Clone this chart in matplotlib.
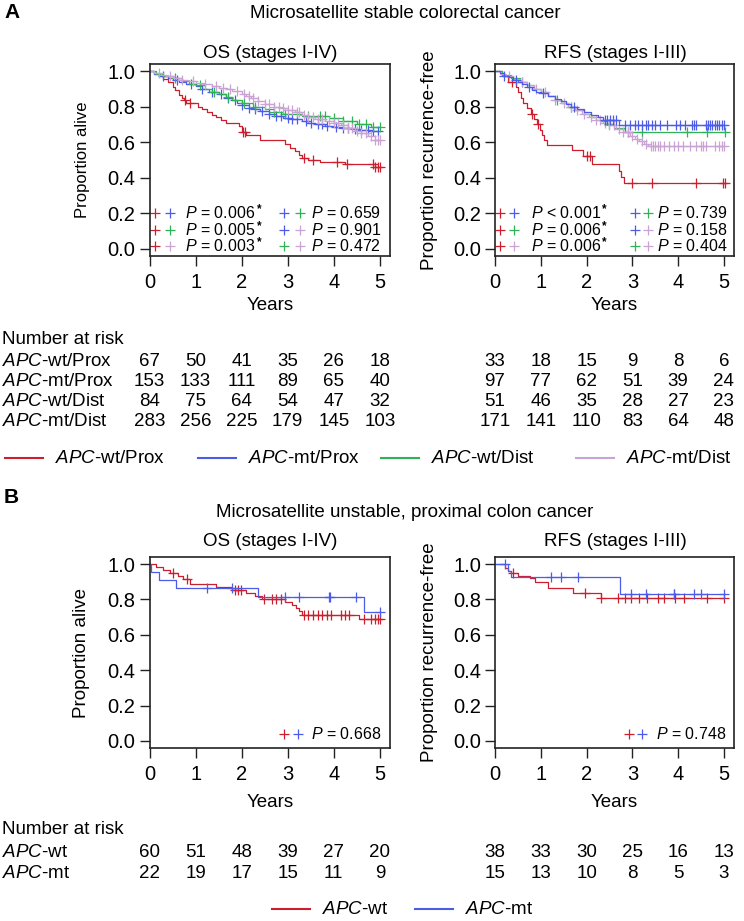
import matplotlib
matplotlib.use('Agg')
import matplotlib.pyplot as plt
import matplotlib.transforms as mtrans
from matplotlib.lines import Line2D
import numpy as np

plt.rcParams['font.family'] = ['Liberation Sans', 'DejaVu Sans']
plt.rcParams['mathtext.fontset'] = 'custom'
plt.rcParams['mathtext.rm'] = 'Liberation Sans'
plt.rcParams['mathtext.it'] = 'Liberation Sans:italic'
plt.rcParams['mathtext.bf'] = 'Liberation Sans:bold'

# ---------------- data ----------------
years = [0, 1, 2, 3, 4, 5]
ytick_vals = [0.0, 0.2, 0.4, 0.6, 0.8, 1.0]
ytick_labels = ['0.0', '0.2', '0.4', '0.6', '0.8', '1.0']

# Panel A, OS (MSS)
a_os_red_t = [0, 0.1, 0.2, 0.3, 0.4, 0.5, 0.55, 0.65, 0.7, 0.75, 0.8, 1.05, 1.15, 1.25, 1.35, 1.45, 1.55, 1.65, 1.95, 2.0, 2.1, 2.4, 2.95, 3.05, 3.15, 3.25, 3.3, 3.45, 3.7, 4.25, 4.9]
a_os_red_s = [1.0, 0.985, 0.97, 0.955, 0.94, 0.91, 0.895, 0.865, 0.85, 0.835, 0.82, 0.80, 0.785, 0.77, 0.755, 0.74, 0.725, 0.71, 0.69, 0.66, 0.64, 0.61, 0.59, 0.57, 0.55, 0.53, 0.51, 0.50, 0.49, 0.475, 0.46]
a_os_red_c = [0.78, 0.88, 2.02, 2.08, 3.35, 3.55, 4.08, 4.28, 4.85, 4.9, 4.95, 5.0]

a_os_blue_t = [0, 0.1, 0.25, 0.4, 0.5, 0.65, 0.8, 1.0, 1.15, 1.3, 1.5, 1.65, 1.8, 1.9, 2.0, 2.15, 2.3, 2.4, 2.6, 2.75, 2.9, 3.1, 3.3, 3.45, 3.6, 3.8, 4.0, 4.2, 4.4, 4.6, 4.8]
a_os_blue_s = [1.0, 0.985, 0.975, 0.96, 0.95, 0.94, 0.93, 0.915, 0.9, 0.885, 0.87, 0.85, 0.835, 0.82, 0.81, 0.795, 0.785, 0.775, 0.76, 0.745, 0.735, 0.728, 0.72, 0.71, 0.70, 0.692, 0.685, 0.68, 0.675, 0.67, 0.665]
a_os_blue_c = [0.3, 0.6, 0.9, 1.15, 1.35, 1.55, 1.7, 1.85, 2.0, 2.15, 2.3, 2.45, 2.6, 2.75, 2.85, 3.0, 3.1, 3.2, 3.4, 3.5, 3.65, 3.75, 3.85, 4.05, 4.2, 4.3, 4.45, 4.6, 4.75, 4.85, 4.95]

a_os_green_t = [0, 0.15, 0.3, 0.5, 0.7, 0.85, 1.0, 1.2, 1.35, 1.5, 1.65, 1.8, 2.0, 2.25, 2.5, 2.7, 2.9, 3.3, 3.9, 4.2, 4.5, 4.8]
a_os_green_s = [1.0, 0.985, 0.97, 0.96, 0.945, 0.93, 0.92, 0.9, 0.885, 0.87, 0.855, 0.84, 0.82, 0.80, 0.785, 0.77, 0.76, 0.75, 0.735, 0.72, 0.70, 0.685]
a_os_green_c = [0.55, 1.1, 1.4, 1.7, 2.05, 2.3, 2.7, 2.95, 3.45, 3.7, 3.8, 4.0, 4.2, 4.4, 4.55, 4.7, 4.85, 5.0]

a_os_lilac_t = [0, 0.1, 0.25, 0.4, 0.5, 0.7, 0.85, 1.0, 1.2, 1.35, 1.5, 1.65, 1.8, 2.0, 2.1, 2.2, 2.35, 2.5, 2.7, 2.85, 3.0, 3.15, 3.3, 3.45, 3.6, 3.8, 4.0, 4.15, 4.3, 4.45, 4.6, 4.75, 4.9]
a_os_lilac_s = [1.0, 0.99, 0.98, 0.97, 0.96, 0.952, 0.944, 0.935, 0.925, 0.915, 0.905, 0.897, 0.89, 0.87, 0.86, 0.85, 0.832, 0.815, 0.80, 0.79, 0.78, 0.768, 0.755, 0.742, 0.73, 0.72, 0.71, 0.695, 0.68, 0.665, 0.65, 0.635, 0.615]
a_os_lilac_c = [0.2, 0.45, 0.7, 0.95, 1.2, 1.45, 1.6, 1.75, 1.9, 2.05, 2.15, 2.25, 2.35, 2.5, 2.6, 2.7, 2.8, 2.9, 3.0, 3.1, 3.2, 3.25, 3.35, 3.45, 3.55, 3.65, 3.75, 3.9, 4.0, 4.1, 4.2, 4.3, 4.4, 4.5, 4.6, 4.7, 4.8, 4.9, 4.95, 5.0]

# Panel A, RFS (MSS)
a_rfs_red_t = [0, 0.15, 0.28, 0.45, 0.5, 0.56, 0.62, 0.7, 0.78, 0.86, 0.92, 0.98, 1.03, 1.08, 1.13, 1.68, 1.93, 2.12, 2.7, 2.76, 2.82]
a_rfs_red_s = [1.0, 0.97, 0.94, 0.91, 0.88, 0.85, 0.82, 0.79, 0.76, 0.73, 0.70, 0.67, 0.64, 0.61, 0.585, 0.555, 0.52, 0.48, 0.44, 0.405, 0.37]
a_rfs_red_c = [0.37, 0.8, 0.95, 2.0, 2.07, 2.99, 3.43, 4.38, 4.97, 5.03]

a_rfs_blue_t = [0, 0.1, 0.2, 0.3, 0.4, 0.5, 0.6, 0.7, 0.8, 0.9, 1.0, 1.15, 1.3, 1.45, 1.55, 1.65, 1.8, 1.95, 2.1, 2.25, 2.35, 2.7]
a_rfs_blue_s = [1.0, 0.99, 0.975, 0.965, 0.95, 0.94, 0.925, 0.91, 0.895, 0.885, 0.875, 0.86, 0.845, 0.83, 0.815, 0.80, 0.785, 0.77, 0.755, 0.74, 0.725, 0.695]
a_rfs_blue_c = [0.2, 0.45, 0.75, 1.05, 1.72, 2.4, 2.45, 2.52, 2.58, 2.65, 2.85, 2.95, 3.05, 3.12, 3.2, 3.3, 3.35, 3.42, 3.5, 3.6, 3.75, 3.95, 4.05, 4.15, 4.3, 4.35, 4.4, 4.6, 4.65, 4.7, 4.75, 4.8, 4.85, 4.9, 4.95, 5.0]

a_rfs_green_t = [0, 0.15, 0.35, 0.55, 0.7, 0.85, 1.0, 1.15, 1.3, 1.45, 1.6, 1.75, 1.95, 2.1, 2.3, 2.45, 2.6, 2.85]
a_rfs_green_s = [1.0, 0.98, 0.96, 0.94, 0.92, 0.90, 0.88, 0.86, 0.84, 0.82, 0.80, 0.78, 0.76, 0.74, 0.72, 0.70, 0.68, 0.66]
a_rfs_green_c = [0.6, 1.35, 1.65, 2.5, 2.9, 3.2, 4.2, 4.63, 5.02]

a_rfs_lilac_t = [0, 0.1, 0.25, 0.4, 0.55, 0.7, 0.85, 1.0, 1.15, 1.3, 1.45, 1.6, 1.75, 1.9, 2.05, 2.2, 2.35, 2.5, 2.65, 2.8, 2.95, 3.05, 3.15, 3.25, 3.35]
a_rfs_lilac_s = [1.0, 0.985, 0.97, 0.955, 0.94, 0.92, 0.90, 0.88, 0.86, 0.84, 0.82, 0.80, 0.78, 0.76, 0.74, 0.725, 0.71, 0.695, 0.675, 0.655, 0.635, 0.62, 0.605, 0.59, 0.578]
a_rfs_lilac_c = [0.3, 0.6, 0.9, 1.1, 1.3, 1.5, 1.65, 1.8, 1.95, 2.1, 2.2, 2.3, 2.4, 2.5, 2.6, 2.7, 2.8, 2.9, 3.0, 3.1, 3.2, 3.3, 3.4, 3.45, 3.5, 3.55, 3.6, 3.7, 3.8, 3.9, 4.0, 4.1, 4.25, 4.4, 4.5, 4.55, 4.6, 4.8, 4.9, 4.95, 5.0]

# Panel B, OS (MSI)
b_os_red_t = [0, 0.15, 0.3, 0.45, 0.62, 0.72, 0.87, 1.45, 1.8, 2.1, 2.3, 2.45, 2.95, 3.1, 3.18, 3.25, 3.3, 4.55]
b_os_red_s = [1.0, 0.983, 0.967, 0.95, 0.933, 0.915, 0.885, 0.868, 0.852, 0.835, 0.82, 0.805, 0.788, 0.77, 0.752, 0.733, 0.71, 0.688]
b_os_red_c = [0.5, 0.82, 1.85, 1.92, 1.98, 2.48, 2.65, 2.75, 2.85, 3.35, 3.45, 3.55, 3.65, 3.75, 3.85, 3.95, 4.15, 4.25, 4.32, 4.65, 4.8, 4.9, 4.95, 5.0]
b_os_blue_t = [0, 0.04, 0.2, 0.58, 2.35, 4.65]
b_os_blue_s = [1.0, 0.955, 0.909, 0.864, 0.813, 0.73]
b_os_blue_c = [1.25, 1.8, 2.95, 3.25, 3.9, 3.92, 4.48, 5.0]

# Panel B, RFS (MSI)
b_rfs_red_t = [0, 0.22, 0.29, 0.36, 0.5, 0.76, 0.87, 1.16, 1.7, 2.32]
b_rfs_red_s = [1.0, 0.98, 0.963, 0.95, 0.935, 0.92, 0.898, 0.866, 0.835, 0.81]
b_rfs_red_c = [0.4, 1.96, 2.32, 2.68, 2.83, 2.97, 3.15, 3.33, 3.55, 3.7, 3.93, 4.13, 4.64, 5.0]
b_rfs_blue_t = [0, 0.29, 0.36, 2.72]
b_rfs_blue_s = [1.0, 0.96, 0.925, 0.833]
b_rfs_blue_c = [0.22, 1.23, 1.45, 1.81, 2.97, 3.3, 3.9, 3.92, 4.35, 4.5, 5.0]

# P values
a_os_p_left = ['= 0.006', '= 0.005', '= 0.003']
a_os_p_right = ['= 0.659', '= 0.901', '= 0.472']
a_rfs_p_left = ['< 0.001', '= 0.006', '= 0.006']
a_rfs_p_right = ['= 0.739', '= 0.158', '= 0.404']
b_os_p = '= 0.668'
b_rfs_p = '= 0.748'

# Number at risk
a_groups = ['-wt/Prox', '-mt/Prox', '-wt/Dist', '-mt/Dist']
a_os_risk_wt_prox = [67, 50, 41, 35, 26, 18]
a_os_risk_mt_prox = [153, 133, 111, 89, 65, 40]
a_os_risk_wt_dist = [84, 75, 64, 54, 47, 32]
a_os_risk_mt_dist = [283, 256, 225, 179, 145, 103]
a_rfs_risk_wt_prox = [33, 18, 15, 9, 8, 6]
a_rfs_risk_mt_prox = [97, 77, 62, 51, 39, 24]
a_rfs_risk_wt_dist = [51, 46, 35, 28, 27, 23]
a_rfs_risk_mt_dist = [171, 141, 110, 83, 64, 48]
b_groups = ['-wt', '-mt']
b_os_risk_wt = [60, 51, 48, 39, 27, 20]
b_os_risk_mt = [22, 19, 17, 15, 11, 9]
b_rfs_risk_wt = [38, 33, 30, 25, 16, 13]
b_rfs_risk_mt = [15, 13, 10, 8, 5, 3]

# ---------------- style ----------------
RED = '#CC1E2C'
BLUE = '#4D5CE8'
GREEN = '#2DB356'
LILAC = '#C9A3D3'
W, H = 744, 921
FS = 13.5

fig = plt.figure(figsize=(W / 100, H / 100), dpi=100)


def px_axes(x0, y0, x1, y1):
    return fig.add_axes([x0 / W, 1 - y1 / H, (x1 - x0) / W, (y1 - y0) / H])


def ftext(x, y, s, **kw):
    kw.setdefault('fontsize', FS)
    return fig.text(x / W, 1 - y / H, s, **kw)


def style_axes(ax):
    ax.set_xlim(0, 5.22)
    ax.set_ylim(-0.04, 1.04)
    ax.set_xticks(years)
    ax.set_xticklabels([str(v) for v in years])
    ax.set_yticks(ytick_vals)
    ax.set_yticklabels(ytick_labels)
    ax.tick_params(direction='out', length=7, width=1.0, labelsize=14.5, pad=3, color='#222222')
    ax.tick_params(axis='x', pad=5)
    for sp in ax.spines.values():
        sp.set_linewidth(1.2)
        sp.set_color('#222222')


def km(ax, t, s, c, color):
    t = np.asarray(t, float)
    s = np.asarray(s, float)
    c = np.asarray(c, float)
    end = max(c.max(), t[-1])
    ax.step(np.append(t, end), np.append(s, s[-1]), where='post', color=color, lw=0.9)
    idx = np.searchsorted(t, c, side='right') - 1
    ax.plot(c, s[idx], linestyle='none', marker='+', color=color, ms=7.5, mew=0.9)


def pmark(ax, x, y, color):
    ax.plot([x], [y], linestyle='none', marker='+', color=color, ms=6.5, mew=0.9)


PFS = 11.5
renderer = fig.canvas.get_renderer()
star_jobs = []


def ptext(ax, x, y, rel, star=False):
    t = ax.text(x, y, r'$\mathit{P}$ ' + rel, fontsize=PFS, va='center', ha='left')
    if star:
        star_jobs.append((ax, t, x, y))
    return t


# Axes
ax1 = px_axes(149.5, 64, 390, 256)
ax2 = px_axes(495, 64, 734, 256)
ax3 = px_axes(149.5, 557, 390, 748)
ax4 = px_axes(495, 557, 734, 748)
for ax in (ax1, ax2, ax3, ax4):
    style_axes(ax)

km(ax1, a_os_red_t, a_os_red_s, a_os_red_c, RED)
km(ax1, a_os_blue_t, a_os_blue_s, a_os_blue_c, BLUE)
km(ax1, a_os_green_t, a_os_green_s, a_os_green_c, GREEN)
km(ax1, a_os_lilac_t, a_os_lilac_s, a_os_lilac_c, LILAC)

km(ax2, a_rfs_red_t, a_rfs_red_s, a_rfs_red_c, RED)
km(ax2, a_rfs_green_t, a_rfs_green_s, a_rfs_green_c, GREEN)
km(ax2, a_rfs_lilac_t, a_rfs_lilac_s, a_rfs_lilac_c, LILAC)
km(ax2, a_rfs_blue_t, a_rfs_blue_s, a_rfs_blue_c, BLUE)

km(ax3, b_os_red_t, b_os_red_s, b_os_red_c, RED)
km(ax3, b_os_blue_t, b_os_blue_s, b_os_blue_c, BLUE)
km(ax4, b_rfs_red_t, b_rfs_red_s, b_rfs_red_c, RED)
km(ax4, b_rfs_blue_t, b_rfs_blue_s, b_rfs_blue_c, BLUE)

# P-value legends
rows_y = [0.2, 0.107, 0.014]
left_pairs = [(RED, BLUE), (RED, GREEN), (RED, LILAC)]
right_pairs = [(BLUE, GREEN), (BLUE, LILAC), (GREEN, LILAC)]
for i, y in enumerate(rows_y):
    pmark(ax1, 0.11, y, left_pairs[i][0]); pmark(ax1, 0.45, y, left_pairs[i][1])
    ptext(ax1, 0.78, y, a_os_p_left[i], star=True)
    pmark(ax1, 2.93, y, right_pairs[i][0]); pmark(ax1, 3.26, y, right_pairs[i][1])
    ptext(ax1, 3.5, y, a_os_p_right[i])
    pmark(ax2, 0.11, y, left_pairs[i][0]); pmark(ax2, 0.42, y, left_pairs[i][1])
    ptext(ax2, 0.78, y, a_rfs_p_left[i], star=True)
    pmark(ax2, 3.05, y, right_pairs[i][0]); pmark(ax2, 3.35, y, right_pairs[i][1])
    ptext(ax2, 3.54, y, a_rfs_p_right[i])

for ax, p in ((ax3, b_os_p), (ax4, b_rfs_p)):
    pmark(ax, 2.93, 0.04, RED); pmark(ax, 3.22, 0.04, BLUE)
    ptext(ax, 3.51, 0.04, p)

# significance stars: placed just after the rendered text, raised like a superscript
for ax, t, x, y in star_jobs:
    bb = t.get_window_extent(renderer)
    _, yd = ax.transData.transform((x, y))
    fig.text(bb.x1 + 1, yd + 4, '*', transform=mtrans.IdentityTransform(),
             fontsize=8.5, fontweight='bold', ha='left', va='center')

# Titles and labels
ftext(4, 13, 'A', fontsize=15, fontweight='bold', ha='left', va='center')
ftext(4, 497, 'B', fontsize=15, fontweight='bold', ha='left', va='center')
ftext(405, 14, 'Microsatellite stable colorectal cancer', ha='center', va='center')
ftext(405, 512, 'Microsatellite unstable, proximal colon cancer', ha='center', va='center')
for (x, y, s) in [(270, 54, 'OS (stages I-IV)'), (615, 54, 'RFS (stages I-III)'),
                  (270, 541, 'OS (stages I-IV)'), (615, 541, 'RFS (stages I-III)')]:
    ftext(x, y, s, ha='center', va='center')
ftext(82, 160, 'Proportion alive', rotation=90, ha='center', va='center', fontsize=12)
ftext(429, 160, 'Proportion recurrence-free', rotation=90, ha='center', va='center')
ftext(82, 653, 'Proportion alive', rotation=90, ha='center', va='center')
ftext(429, 652, 'Proportion recurrence-free', rotation=90, ha='center', va='center')
for x in (270, 614.5):
    ftext(x, 306, 'Years', ha='center', va='center')
    ftext(x, 802, 'Years', ha='center', va='center')


# Risk tables
def risk_row(ax, y_px, values):
    tr = mtrans.blended_transform_factory(ax.transData, fig.transFigure)
    for xv, v in zip(years, values):
        fig.text(xv, 1 - y_px / H, str(v), transform=tr, ha='center', va='center', fontsize=FS)


ftext(2, 339, 'Number at risk', ha='left', va='center')
a_rows_y = [362, 382, 402, 421]
a_os_rows = [a_os_risk_wt_prox, a_os_risk_mt_prox, a_os_risk_wt_dist, a_os_risk_mt_dist]
a_rfs_rows = [a_rfs_risk_wt_prox, a_rfs_risk_mt_prox, a_rfs_risk_wt_dist, a_rfs_risk_mt_dist]
for g, y, ro, rr in zip(a_groups, a_rows_y, a_os_rows, a_rfs_rows):
    ftext(2, y, r'$\mathit{APC}$' + g, ha='left', va='center')
    risk_row(ax1, y, ro)
    risk_row(ax2, y, rr)

ftext(2, 829, 'Number at risk', ha='left', va='center')
b_rows_y = [852, 873]
b_os_rows = [b_os_risk_wt, b_os_risk_mt]
b_rfs_rows = [b_rfs_risk_wt, b_rfs_risk_mt]
for g, y, ro, rr in zip(b_groups, b_rows_y, b_os_rows, b_rfs_rows):
    ftext(2, y, r'$\mathit{APC}$' + g, ha='left', va='center')
    risk_row(ax3, y, ro)
    risk_row(ax4, y, rr)


# Bottom legends
def leg_item(x0, y, color, label):
    fig.add_artist(Line2D([x0 / W, (x0 + 38) / W], [1 - y / H, 1 - y / H], color=color, lw=1.5))
    ftext(x0 + 50, y, label, ha='left', va='center')


for x0, c, g in zip([5, 198, 381, 576], [RED, BLUE, GREEN, LILAC], a_groups):
    leg_item(x0, 458, c, r'$\mathit{APC}$' + g)
for x0, c, g in zip([272, 415], [RED, BLUE], b_groups):
    leg_item(x0, 909, c, r'$\mathit{APC}$' + g)

fig.savefig('out.png', dpi=100)
